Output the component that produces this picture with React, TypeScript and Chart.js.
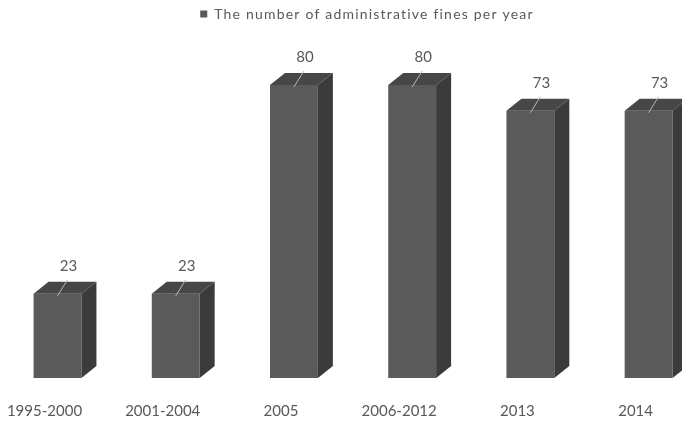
import React, { useEffect, useRef } from "react";
import { Chart, registerables } from "chart.js";

Chart.register(...registerables);

const categories = ["1995-2000", "2001-2004", "2005", "2006-2012", "2013", "2014"];
const fines = [23, 23, 80, 80, 73, 73];
const seriesLabel = "The number of administrative fines per year";
const yMin = 0;
const yMax = 90;

const FRONT = "#5a5a5a";
const SIDE = "#3b3b3b";
const TOP = "#474747";
const TEXT = "#595959";
const FONT = "Lato, 'Open Sans', sans-serif";
const DX = 15;
const DY = 12;

const bar3d = {
  id: "bar3d",
  afterDatasetsDraw(chart: any) {
    const ctx = chart.ctx;
    const meta = chart.getDatasetMeta(0);
    const yScale = chart.scales.y;
    const base = yScale.getPixelForValue(0);
    meta.data.forEach((el: any, i: number) => {
      const { x, y, width } = el.getProps(["x", "y", "width"], true);
      const l = x - width / 2;
      const r = x + width / 2;
      ctx.save();
      // top face
      ctx.fillStyle = TOP;
      ctx.beginPath();
      ctx.moveTo(l, y);
      ctx.lineTo(l + DX, y - DY);
      ctx.lineTo(r + DX, y - DY);
      ctx.lineTo(r, y);
      ctx.closePath();
      ctx.fill();
      // side face
      ctx.fillStyle = SIDE;
      ctx.beginPath();
      ctx.moveTo(r, y);
      ctx.lineTo(r + DX, y - DY);
      ctx.lineTo(r + DX, base - DY);
      ctx.lineTo(r, base);
      ctx.closePath();
      ctx.fill();
      // leader line
      ctx.strokeStyle = "#b8b8b8";
      ctx.lineWidth = 1;
      ctx.beginPath();
      ctx.moveTo(x, y + 2);
      ctx.lineTo(x + 10, y - 14);
      ctx.stroke();
      // value label
      ctx.fillStyle = TEXT;
      ctx.font = `15px ${FONT}`;
      ctx.textAlign = "center";
      ctx.textBaseline = "middle";
      ctx.fillText(String(chart.data.datasets[0].data[i]), x + 11, y - 28);
      ctx.restore();
    });
  },
  afterDraw(chart: any) {
    const ctx = chart.ctx;
    const label = chart.data.datasets[0].label;
    ctx.save();
    ctx.font = `14px ${FONT}`;
    (ctx as any).letterSpacing = "1.2px";
    const tw = ctx.measureText(label).width;
    const boxW = 7;
    const gap = 7;
    const total = boxW + gap + tw;
    const cx = 367;
    const startX = cx - total / 2;
    const cy = 14;
    ctx.fillStyle = TEXT;
    ctx.fillRect(startX, cy - boxW / 2, boxW, boxW);
    ctx.textAlign = "left";
    ctx.textBaseline = "middle";
    ctx.fillText(label, startX + boxW + gap, cy);
    ctx.restore();
  },
};

export default function App() {
  const canvasRef = useRef<HTMLCanvasElement | null>(null);

  useEffect(() => {
    if (!canvasRef.current) return;
    const chart = new Chart(canvasRef.current, {
      type: "bar",
      data: {
        labels: categories,
        datasets: [
          {
            label: seriesLabel,
            data: fines,
            backgroundColor: FRONT,
            borderWidth: 0,
            categoryPercentage: 1,
            barPercentage: 0.405,
            clip: false as any,
          },
        ],
      },
      options: {
        responsive: true,
        maintainAspectRatio: false,
        animation: false,
        layout: { padding: { left: 57.5, right: 26, top: 48.4, bottom: 0 } },
        plugins: {
          legend: { display: false },
          tooltip: { enabled: false },
        },
        scales: {
          x: {
            offset: false,
            grid: { display: false },
            border: { display: false },
            ticks: {
              color: TEXT,
              font: { family: FONT, size: 15 },
              labelOffset: -13,
              padding: 16,
              maxRotation: 0,
              autoSkip: false,
            },
            afterFit(scale: any) {
              scale.height = 43;
            },
          },
          y: { display: false, min: yMin, max: yMax },
        },
      },
      plugins: [bar3d],
    });
    return () => chart.destroy();
  }, []);

  return (
    <div style={{ position: "absolute", left: 0, top: 0, width: 682, height: 421, background: "#fff" }}>
      <canvas ref={canvasRef} />
    </div>
  );
}
